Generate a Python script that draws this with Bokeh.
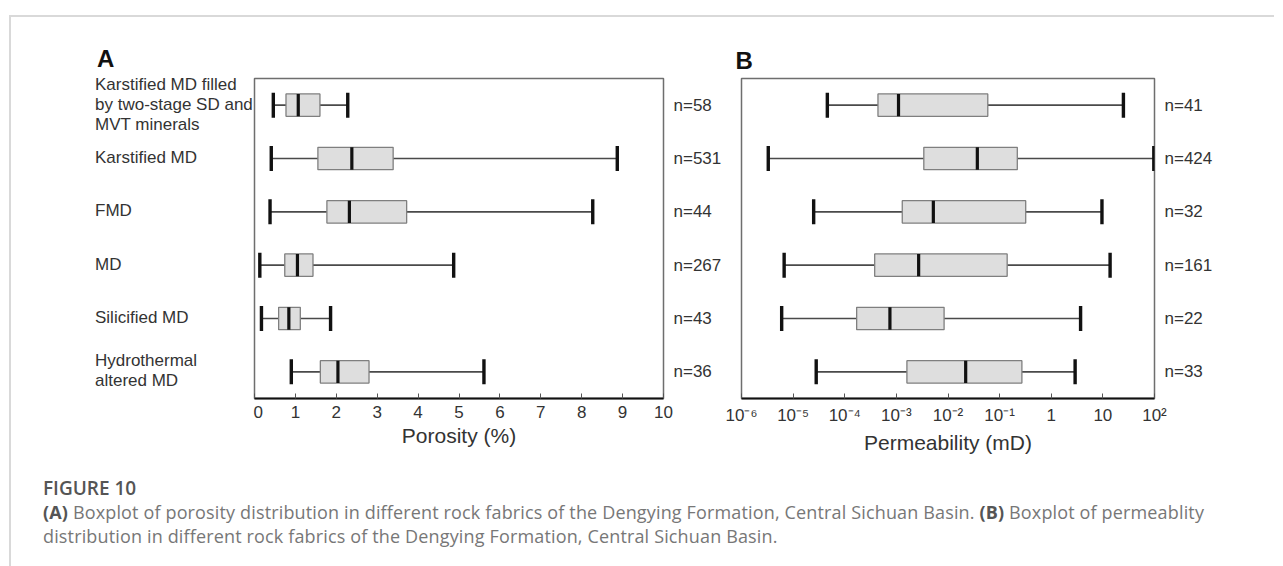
from bokeh.plotting import figure
from bokeh.models import (Range1d, FixedTicker, Div, ColumnDataSource, CustomJSTickFormatter,
                          LinearAxis)
from bokeh.layouts import row, column
from bokeh.embed import file_html
from bokeh.resources import INLINE

# ---------------- data ----------------
categories = [
    "Karstified MD filled\nby two-stage SD and\nMVT minerals",
    "Karstified MD",
    "FMD",
    "MD",
    "Silicified MD",
    "Hydrothermal\naltered MD",
]

# Porosity (%)
por_n = [58, 531, 44, 267, 43, 36]
por_low = [0.46, 0.41, 0.38, 0.13, 0.17, 0.90]
por_q1 = [0.77, 1.55, 1.77, 0.74, 0.59, 1.61]
por_med = [1.07, 2.38, 2.32, 1.05, 0.84, 2.04]
por_q3 = [1.60, 3.39, 3.72, 1.43, 1.12, 2.80]
por_high = [2.28, 8.87, 8.27, 4.87, 1.86, 5.61]

# Permeability (mD)
perm_n = [41, 424, 32, 161, 22, 33]
perm_low = [4.6e-5, 3.3e-6, 2.5e-5, 6.7e-6, 6.0e-6, 2.8e-5]
perm_q1 = [4.4e-4, 3.4e-3, 1.3e-3, 3.8e-4, 1.7e-4, 1.6e-3]
perm_med = [1.1e-3, 3.7e-2, 5.2e-3, 2.7e-3, 7.5e-4, 2.2e-2]
perm_q3 = [5.9e-2, 0.22, 0.32, 0.14, 8.4e-3, 0.27]
perm_high = [25.0, 97.0, 9.6, 13.8, 3.7, 2.9]

por_ticks = [0, 1, 2, 3, 4, 5, 6, 7, 8, 9, 10]
por_tick_labels = ["0", "1", "2", "3", "4", "5", "6", "7", "8", "9", "10"]
perm_ticks = [1e-6, 1e-5, 1e-4, 1e-3, 1e-2, 1e-1, 1, 10, 100]
perm_tick_labels = ["10⁻⁶", "10⁻⁵", "10⁻⁴", "10⁻³", "10⁻²", "10⁻¹", "1", "10", "10²"]

# ---------------- style ----------------
SANS = "Liberation Sans"
TEXT = "#333333"
FIG_H = 443
BORDER_TOP = 61
BORDER_BOTTOM = 62
ROW_PX = (FIG_H - BORDER_TOP - BORDER_BOTTOM) / float(len(categories))
LABEL_W = 242
LABEL_INSET = 84
LETTER_RISE = 19  # px above the frame top for the panel letters

rows_y = [len(categories) - i for i in range(len(categories))]

LOOKUP_JS = """
    let best = 0, bd = Infinity;
    for (let i = 0; i < tvals.length; i++) {
        const d = islog ? Math.abs(Math.log10(tvals[i]) - Math.log10(tick)) : Math.abs(tvals[i] - tick);
        if (d < bd) { bd = d; best = i; }
    }
    return tlabels[best];
"""


def style_title(p, letter, offset):
    p.title.text = letter
    p.title.align = "left"
    p.title.offset = offset
    p.title.standoff = 10
    p.title.text_font = SANS
    p.title.text_font_size = "24px"
    p.title.text_font_style = "bold"
    p.title.text_color = "#111111"


def make_panel(low, q1, med, q3, high, n, x_range, log, ticks, tick_labels,
               letter, letter_dx, axis_title, width, b_left, b_right):
    p = figure(width=width, height=FIG_H, x_range=x_range, y_range=Range1d(0.5, 6.5),
               x_axis_type="log" if log else "linear", y_axis_location=None,
               output_backend="svg", toolbar_location=None,
               min_border_left=b_left, min_border_right=b_right,
               min_border_top=BORDER_TOP, min_border_bottom=BORDER_BOTTOM)
    p.xgrid.visible = False
    p.ygrid.visible = False
    p.outline_line_color = "#6e6e6e"
    p.outline_line_width = 1.5
    p.background_fill_color = "white"
    p.border_fill_color = "white"
    if letter:
        style_title(p, letter, letter_dx)

    cap = 0.235
    box = 0.21
    src = ColumnDataSource(dict(
        y=rows_y, low=low, q1=q1, med=med, q3=q3, high=high,
        ylo_cap=[y - cap for y in rows_y], yhi_cap=[y + cap for y in rows_y],
        ylo_box=[y - box for y in rows_y], yhi_box=[y + box for y in rows_y],
    ))
    p.segment(x0="low", x1="q1", y0="y", y1="y", source=src, line_color="#4a4a4a", line_width=1.6)
    p.segment(x0="q3", x1="high", y0="y", y1="y", source=src, line_color="#4a4a4a", line_width=1.6)
    p.hbar(y="y", left="q1", right="q3", height=2 * box, source=src,
           fill_color="#dedede", line_color="#7f7f7f", line_width=1.3)
    p.segment(x0="med", x1="med", y0="ylo_box", y1="yhi_box", source=src, line_color="#111111", line_width=3.2)
    p.segment(x0="low", x1="low", y0="ylo_cap", y1="yhi_cap", source=src, line_color="#111111", line_width=3.4)
    p.segment(x0="high", x1="high", y0="ylo_cap", y1="yhi_cap", source=src, line_color="#111111", line_width=3.4)

    ax = p.xaxis[0]
    ax.ticker = FixedTicker(ticks=ticks)
    ax.formatter = CustomJSTickFormatter(args=dict(tvals=ticks, tlabels=tick_labels, islog=log), code=LOOKUP_JS)
    ax.major_tick_in = 5
    ax.major_tick_out = 0
    ax.major_tick_line_color = "#555555"
    ax.major_tick_line_width = 1
    ax.minor_tick_line_color = None
    ax.axis_line_color = "#111111"
    ax.axis_line_width = 2
    ax.major_label_text_font = SANS
    ax.major_label_text_font_size = "17px"
    ax.major_label_text_color = TEXT
    ax.major_label_standoff = 7
    ax.axis_label = axis_title
    ax.axis_label_text_font = SANS
    ax.axis_label_text_font_style = "normal"
    ax.axis_label_text_font_size = "21px"
    ax.axis_label_text_color = TEXT
    ax.axis_label_standoff = 3

    # sample counts on the right side
    n_labels = ["n=%d" % v for v in n]
    rax = LinearAxis(ticker=FixedTicker(ticks=rows_y),
                     formatter=CustomJSTickFormatter(args=dict(tvals=rows_y, tlabels=n_labels, islog=False),
                                                     code=LOOKUP_JS))
    rax.axis_line_color = None
    rax.major_tick_line_color = None
    rax.minor_tick_line_color = None
    rax.major_tick_in = 0
    rax.major_tick_out = 0
    rax.major_label_standoff = 10
    rax.major_label_text_font = SANS
    rax.major_label_text_font_size = "17px"
    rax.major_label_text_color = TEXT
    p.add_layout(rax, "right")
    return p


# ---- category labels column (HTML, aligned with panel A rows) ----
parts = ["<div style=\"position:relative;width:%dpx;height:%dpx;font-family:'%s';color:%s\">"
         % (LABEL_W, FIG_H, SANS, TEXT)]
parts.append("<div style=\"position:absolute;left:%dpx;top:%dpx;transform:translateY(-50%%);"
             "font-size:24px;line-height:28px;font-weight:bold;color:#111111\">A</div>"
             % (LABEL_INSET + 2, BORDER_TOP - LETTER_RISE))
for i, cat in enumerate(categories):
    center = BORDER_TOP + (i + 0.5) * ROW_PX
    parts.append("<div style=\"position:absolute;left:%dpx;top:%.1fpx;transform:translateY(-50%%);"
                 "font-size:17px;line-height:20px;white-space:nowrap\">%s</div>"
                 % (LABEL_INSET, center, cat.replace("\n", "<br>")))
parts.append("</div>")
labels_div = Div(text="".join(parts), width=LABEL_W, height=FIG_H, margin=0)

pA = make_panel(por_low, por_q1, por_med, por_q3, por_high, por_n,
                Range1d(0, 10), False, por_ticks, por_tick_labels,
                None, 0, "Porosity (%)", 471, 1, 57)
pB = make_panel(perm_low, perm_q1, perm_med, perm_q3, perm_high, perm_n,
                Range1d(1e-6, 1e2), True, perm_ticks, perm_tick_labels,
                "B", -6, "Permeability (mD)", 520, 17, 90)

caption_html = (
    "<div style=\"font-family:'Open Sans';font-weight:600;font-size:19px;color:#555555;"
    "line-height:24px;margin-top:16px;white-space:nowrap\">FIGURE 10</div>"
    "<div style=\"font-family:'Open Sans';font-size:18px;letter-spacing:0.15px;color:#777777;"
    "line-height:24px;white-space:nowrap\">"
    "<b style='color:#555555'>(A)</b> Boxplot of porosity distribution in different rock fabrics of the "
    "Dengying Formation, Central Sichuan Basin. <b style='color:#555555'>(B)</b> Boxplot of permeablity<br>"
    "distribution in different rock fabrics of the Dengying Formation, Central Sichuan Basin.</div>"
)
caption = Div(text=caption_html, width=1230, height=96, margin=(0, 0, 0, 32))

hbar = Div(text="", width=1263, height=2, margin=0, styles={"background-color": "#d9d9d9"})
vbar = Div(text="", width=2, height=551, margin=0, styles={"background-color": "#d9d9d9"})

figs = row(labels_div, pA, pB, margin=0)
content = column(hbar, figs, caption, margin=0)
root = row(vbar, content, margin=(15, 0, 0, 9))

open("out.html", "w").write(file_html(root, INLINE))
